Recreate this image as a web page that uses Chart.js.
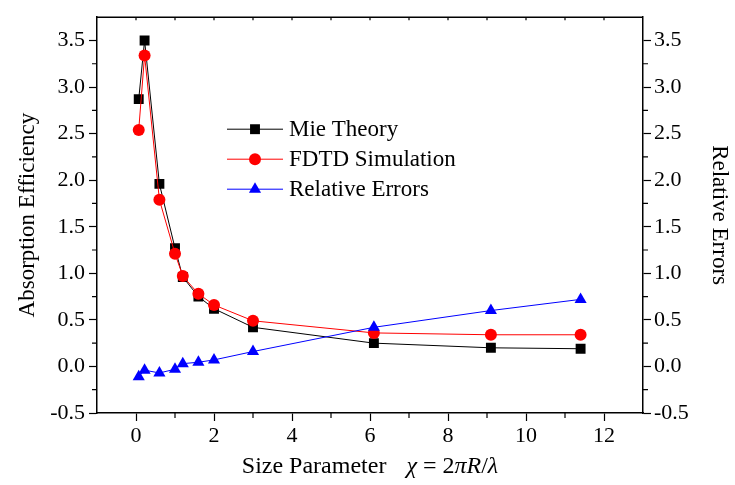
<!DOCTYPE html>
<html>
<head>
<meta charset="utf-8">
<script src="https://cdn.jsdelivr.net/npm/chart.js@4.4.1/dist/chart.umd.min.js"></script>
<style>
  html, body { margin: 0; padding: 0; background: #fff; }
  #wrap { width: 735px; height: 485px; position: relative; }
</style>
</head>
<body>
<div id="wrap"><canvas id="myChart"></canvas></div>
<script>
/* globals Chart:false */

// data
const sizeParam = [0.07, 0.22, 0.6, 1.0, 1.2, 1.6, 2.0, 3.0, 6.1, 9.1, 11.4];
const mieTheory = [2.87, 3.50, 1.96, 1.27, 0.96, 0.75, 0.62, 0.42, 0.25, 0.20, 0.19];
const fdtdSim = [2.54, 3.34, 1.79, 1.21, 0.97, 0.78, 0.66, 0.49, 0.36, 0.34, 0.34];
const relErrors = [-0.11, -0.04, -0.07, -0.03, 0.03, 0.045, 0.07, 0.16, 0.42, 0.60, 0.72];

const seriesNames = ["Mie Theory", "FDTD Simulation", "Relative Errors"];
const xTickLabels = [0, 2, 4, 6, 8, 10, 12];
const yTickLabels = [-0.5, 0.0, 0.5, 1.0, 1.5, 2.0, 2.5, 3.0, 3.5];

const FONT = "'Liberation Serif', 'Times New Roman', serif";

function pts(ys) {
  return sizeParam.map((x, i) => ({ x: x, y: ys[i] }));
}

// minor ticks, top border, legend and x title
const decorations = {
  id: "decorations",
  afterDraw(chart) {
    const ctx = chart.ctx;
    const area = chart.chartArea;
    const sx = chart.scales.x;
    const sy = chart.scales.y;
    ctx.save();
    ctx.strokeStyle = "#000";
    ctx.lineWidth = 1.5;

    // top border
    ctx.beginPath();
    ctx.moveTo(area.left, area.top);
    ctx.lineTo(area.right, area.top);
    ctx.stroke();

    ctx.lineWidth = 1.2;
    ctx.beginPath();
    // x minor ticks (bottom) and small top ticks
    for (let v = 0; v < 13; v++) {
      const px = sx.getPixelForValue(v);
      if (v % 2 !== 0) {
        ctx.moveTo(px, area.bottom);
        ctx.lineTo(px, area.bottom + 5);
      }
      ctx.moveTo(px, area.top);
      ctx.lineTo(px, area.top + 3);
    }
    // y minor ticks both sides
    for (let v = -0.25; v < 3.75; v += 0.5) {
      const py = sy.getPixelForValue(v);
      ctx.moveTo(area.left, py);
      ctx.lineTo(area.left - 5, py);
      ctx.moveTo(area.right, py);
      ctx.lineTo(area.right + 5, py);
    }
    ctx.stroke();

    // legend
    const lx = area.left + 130;
    const ly = area.top + 112;
    chart.data.datasets.forEach((ds, i) => {
      const y = ly + i * 30;
      ctx.strokeStyle = ds.borderColor;
      ctx.fillStyle = ds.pointBackgroundColor;
      ctx.lineWidth = 1;
      ctx.beginPath();
      ctx.moveTo(lx, y);
      ctx.lineTo(lx + 56, y);
      ctx.stroke();
      Chart.helpers.drawPoint(ctx, {
        pointStyle: ds.pointStyle,
        radius: ds.pointRadius,
        rotation: 0,
        borderWidth: 0
      }, lx + 28, y);
      ctx.fillStyle = "#000";
      ctx.font = "23px " + FONT;
      ctx.textAlign = "left";
      ctx.textBaseline = "middle";
      ctx.fillText(ds.label, lx + 62, y + 1);
    });

    // x axis title with italic symbols (text, style, gap after)
    const parts = [
      ["Size Parameter", "normal", 20],
      ["\u03C7", "italic", 6],
      ["=", "normal", 6],
      ["2", "normal", 0],
      ["\u03C0R", "italic", 0],
      ["/", "normal", 0],
      ["\u03BB", "italic", 0]
    ];
    let total = 0;
    parts.forEach(p => {
      ctx.font = p[1] + " 24px " + FONT;
      total += ctx.measureText(p[0]).width + p[2];
    });
    let cx = (area.left + area.right) / 2 - total / 2;
    const ty = area.bottom + 54;
    ctx.textAlign = "left";
    ctx.textBaseline = "middle";
    ctx.fillStyle = "#000";
    parts.forEach(p => {
      ctx.font = p[1] + " 24px " + FONT;
      ctx.fillText(p[0], cx, ty);
      cx += ctx.measureText(p[0]).width + p[2];
    });
    ctx.restore();
  }
};

const axisCommon = {
  grid: {
    drawOnChartArea: false,
    drawTicks: true,
    tickLength: 8,
    color: "#000",
    tickWidth: 1.2
  },
  border: { display: true, color: "#000", width: 1.5 }
};

const ctx = document.getElementById("myChart");
// eslint-disable-next-line no-unused-vars
const myChart = new Chart(ctx, {
  type: "line",
  data: {
    datasets: [
      {
        label: seriesNames[0],
        data: pts(mieTheory),
        yAxisID: "y",
        borderColor: "#000000",
        backgroundColor: "#000000",
        pointBackgroundColor: "#000000",
        pointBorderColor: "#000000",
        pointStyle: "rect",
        pointRadius: 7,
        pointBorderWidth: 0,
        borderWidth: 1,
        lineTension: 0,
        order: 3
      },
      {
        label: seriesNames[1],
        data: pts(fdtdSim),
        yAxisID: "y",
        borderColor: "#ff0000",
        backgroundColor: "#ff0000",
        pointBackgroundColor: "#ff0000",
        pointBorderColor: "#ff0000",
        pointStyle: "circle",
        pointRadius: 6,
        pointBorderWidth: 0,
        borderWidth: 1,
        lineTension: 0,
        order: 2
      },
      {
        label: seriesNames[2],
        data: pts(relErrors),
        yAxisID: "y1",
        borderColor: "#0000ff",
        backgroundColor: "#0000ff",
        pointBackgroundColor: "#0000ff",
        pointBorderColor: "#0000ff",
        pointStyle: "triangle",
        pointRadius: 7,
        pointBorderWidth: 0,
        borderWidth: 1,
        lineTension: 0,
        order: 1
      }
    ]
  },
  options: {
    responsive: true,
    maintainAspectRatio: false,
    animation: false,
    layout: { padding: { top: 11, left: 0, right: 0, bottom: 0 } },
    plugins: {
      legend: { display: false },
      tooltip: { enabled: false }
    },
    scales: {
      x: {
        ...axisCommon,
        type: "linear",
        position: "bottom",
        min: -1,
        max: 13,
        afterBuildTicks: (scale) => {
          scale.ticks = xTickLabels.map(v => ({ value: v }));
        },
        ticks: {
          color: "#000",
          font: { family: FONT, size: 22 },
          padding: 2,
          maxRotation: 0,
          callback: (v) => String(v)
        },
        afterFit: (scale) => { scale.height = 72; }
      },
      y: {
        ...axisCommon,
        position: "left",
        min: -0.5,
        max: 3.75,
        afterBuildTicks: (scale) => {
          scale.ticks = yTickLabels.map(v => ({ value: v }));
        },
        ticks: {
          color: "#000",
          font: { family: FONT, size: 22 },
          padding: 4,
          callback: (v) => v.toFixed(1)
        },
        title: {
          display: true,
          text: "Absorption Efficiency",
          color: "#000",
          font: { family: FONT, size: 23 },
          padding: { top: 14, bottom: 0 }
        },
        afterFit: (scale) => { scale.width = 97; }
      },
      y1: {
        ...axisCommon,
        position: "right",
        min: -0.5,
        max: 3.75,
        afterBuildTicks: (scale) => {
          scale.ticks = yTickLabels.map(v => ({ value: v }));
        },
        ticks: {
          color: "#000",
          font: { family: FONT, size: 22 },
          padding: 3,
          callback: (v) => v.toFixed(1)
        },
        title: {
          display: true,
          text: "Relative Errors",
          color: "#000",
          font: { family: FONT, size: 23 },
          padding: { top: 2, bottom: 0 }
        },
        afterFit: (scale) => { scale.width = 92; }
      }
    }
  },
  plugins: [decorations]
});
</script>
</body>
</html>
